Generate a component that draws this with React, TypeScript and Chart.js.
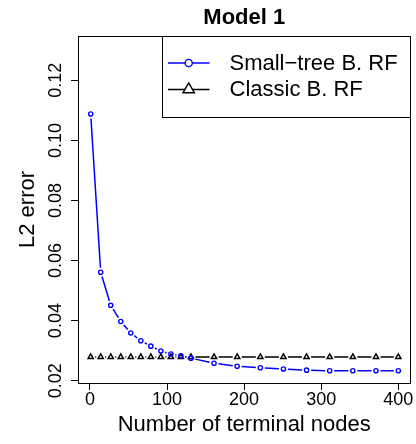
import React, { useEffect, useRef } from 'react';
import { Chart, registerables } from 'chart.js';

Chart.register(...registerables);

// ---- data ----
const terminalNodes = [1, 14, 27, 40, 53, 66, 79, 92, 105, 118, 131, 161, 191, 221, 251, 281, 311, 341, 371, 400];
const smallTreeRF = [0.1088, 0.0561, 0.0451, 0.0397, 0.0359, 0.0333, 0.0315, 0.0299, 0.0289, 0.0283, 0.0275, 0.0258, 0.0248, 0.0243, 0.0239, 0.0235, 0.0233, 0.0233, 0.0233, 0.0233];
const classicRF = [0.0279, 0.0279, 0.0279, 0.0279, 0.0279, 0.0279, 0.0279, 0.0279, 0.0279, 0.0279, 0.0279, 0.0279, 0.0279, 0.0279, 0.0279, 0.0279, 0.0279, 0.0279, 0.0279, 0.0279];
const seriesNames = ['Small\u2212tree B. RF', 'Classic B. RF'];
const xTickValues = [0, 100, 200, 300, 400];
const yTickValues = [0.02, 0.04, 0.06, 0.08, 0.1, 0.12];
const chartTitle = 'Model 1';
const xTitle = 'Number of terminal nodes';
const yTitle = 'L2 error';

const FONT = '"Liberation Sans", Arial, Helvetica, sans-serif';

// R type="b": segments between points with a gap around each point
const gappedLines = {
  id: 'gappedLines',
  beforeDatasetDraw(chart: any, args: any) {
    const ds: any = chart.data.datasets[args.index];
    const pts = args.meta.data;
    const gap = 4.5;
    const ctx = chart.ctx;
    ctx.save();
    ctx.strokeStyle = ds.borderColor;
    ctx.lineWidth = ds.segmentWidth || 1.5;
    ctx.beginPath();
    for (let i = 0; i < pts.length - 1; i++) {
      const p = pts[i], q = pts[i + 1];
      const dx = q.x - p.x, dy = q.y - p.y;
      const d = Math.sqrt(dx * dx + dy * dy);
      if (d <= 2 * gap) continue;
      const ux = dx / d, uy = dy / d;
      ctx.moveTo(p.x + ux * gap, p.y + uy * gap);
      ctx.lineTo(q.x - ux * gap, q.y - uy * gap);
    }
    ctx.stroke();
    ctx.restore();
  },
};

function legendSymbol(ctx: CanvasRenderingContext2D, style: string, r: number, x: number, y: number) {
  ctx.beginPath();
  if (style === 'triangle') {
    ctx.moveTo(x, y - r);
    ctx.lineTo(x + r * Math.sqrt(3) / 2, y + r / 2);
    ctx.lineTo(x - r * Math.sqrt(3) / 2, y + r / 2);
    ctx.closePath();
  } else {
    ctx.arc(x, y, r, 0, Math.PI * 2);
  }
  ctx.fill();
  ctx.stroke();
}

// full box around plot region + R-style legend at top right
const boxAndLegend = {
  id: 'boxAndLegend',
  afterDraw(chart: any) {
    const ctx = chart.ctx;
    const a = chart.chartArea;
    const L = Math.round(a.left), T = Math.round(a.top), R = Math.round(a.right), B = Math.round(a.bottom);
    ctx.save();
    ctx.strokeStyle = '#000';
    ctx.lineWidth = 1;
    ctx.strokeRect(L + 0.5, T + 0.5, R - L - 1, B - T);

    // legend
    const lw = 249, lh = 81;
    const lx = R - lw, ly = T;
    ctx.fillStyle = '#fff';
    ctx.fillRect(lx + 0.5, ly + 0.5, lw - 1, lh);
    ctx.strokeRect(lx + 0.5, ly + 0.5, lw - 1, lh);
    const rows = [ly + 27, ly + 53.5];
    const symR = [3.6, 6.6];
    chart.data.datasets.forEach((ds: any, i: number) => {
      const y = rows[i];
      ctx.strokeStyle = ds.borderColor;
      ctx.lineWidth = 1.5;
      ctx.beginPath();
      ctx.moveTo(lx + 6, y);
      ctx.lineTo(lx + 47.5, y);
      ctx.stroke();
      ctx.fillStyle = '#fff';
      ctx.lineWidth = 1.4;
      legendSymbol(ctx, ds.pointStyle, symR[i], lx + 26.7, y);
      ctx.fillStyle = '#000';
      ctx.font = `22px ${FONT}`;
      ctx.textAlign = 'left';
      ctx.textBaseline = 'middle';
      ctx.fillText(ds.label, lx + 67.5, y + 0.5);
    });
    ctx.restore();
  },
};

export default function App() {
  const ref = useRef<HTMLCanvasElement>(null);
  useEffect(() => {
    if (!ref.current) return;
    Chart.defaults.font.family = FONT;
    Chart.defaults.color = '#000';
    const chart = new Chart(ref.current, {
      type: 'line',
      data: {
        datasets: [
          {
            label: seriesNames[0],
            data: terminalNodes.map((x, i) => ({ x, y: smallTreeRF[i] })),
            borderColor: '#0000ff',
            backgroundColor: '#ffffff',
            showLine: false,
            pointStyle: 'circle',
            pointRadius: 2.1,
            pointBorderWidth: 1.4,
            pointBorderColor: '#0000ff',
            pointBackgroundColor: 'rgba(255,255,255,0)',
            segmentWidth: 1.5,
            clip: false,
          } as any,
          {
            label: seriesNames[1],
            data: terminalNodes.map((x, i) => ({ x, y: classicRF[i] })),
            borderColor: '#000000',
            backgroundColor: '#ffffff',
            showLine: false,
            pointStyle: 'triangle',
            pointRadius: 3,
            pointBorderWidth: 1.5,
            pointBorderColor: '#000000',
            pointBackgroundColor: 'rgba(255,255,255,0)',
            segmentWidth: 1.5,
            clip: false,
          } as any,
        ],
      },
      options: {
        animation: false,
        responsive: false,
        devicePixelRatio: 1,
        events: [],
        layout: { padding: { left: 0, right: 3, top: 0, bottom: 0 } },
        plugins: {
          legend: { display: false },
          tooltip: { enabled: false },
          title: {
            display: true,
            fullSize: false,
            text: chartTitle,
            color: '#000',
            font: { size: 22, weight: 'bold', family: FONT, lineHeight: 1.2 },
            padding: { top: 5, bottom: 4.6 },
          },
        },
        scales: {
          x: {
            type: 'linear',
            min: -15.45,
            max: 415.8,
            afterFit: (s: any) => { s.height = 61; },
            afterBuildTicks: (s: any) => { s.ticks = xTickValues.map((v) => ({ value: v })); },
            ticks: {
              color: '#000',
              font: { size: 18, family: FONT },
              padding: -1,
              maxRotation: 0,
              autoSkip: false,
              callback: (v: any) => String(v),
            },
            grid: { drawOnChartArea: false, drawTicks: true, tickLength: 7, color: '#000', lineWidth: 1 },
            border: { display: true, color: '#000', width: 1 },
            title: {
              display: true,
              text: xTitle,
              color: '#000',
              font: { size: 22, family: FONT, lineHeight: 1.2 },
              padding: { top: 0, bottom: 5.8 },
            },
          },
          y: {
            type: 'linear',
            min: 0.01923,
            max: 0.13475,
            afterFit: (s: any) => { s.width = 78; },
            afterBuildTicks: (s: any) => { s.ticks = yTickValues.map((v) => ({ value: v })); },
            ticks: {
              color: '#000',
              font: { size: 18, family: FONT },
              crossAlign: 'center',
              minRotation: 90,
              maxRotation: 90,
              padding: -3,
              autoSkip: false,
              callback: (v: any) => Number(v).toFixed(2),
            },
            grid: { drawOnChartArea: false, drawTicks: true, tickLength: 7, color: '#000', lineWidth: 1 },
            border: { display: true, color: '#000', width: 1 },
            title: {
              display: true,
              text: yTitle,
              color: '#000',
              font: { size: 22, family: FONT, lineHeight: 1.2 },
              padding: { top: 15.1, bottom: 0 },
            },
          },
        },
      } as any,
      plugins: [gappedLines, boxAndLegend],
    });
    return () => chart.destroy();
  }, []);
  return (
    <div style={{ position: 'fixed', left: 0, top: 0, width: 416, height: 444, background: '#fff' }}>
      <canvas ref={ref} width={416} height={444} style={{ display: 'block' }} />
    </div>
  );
}
